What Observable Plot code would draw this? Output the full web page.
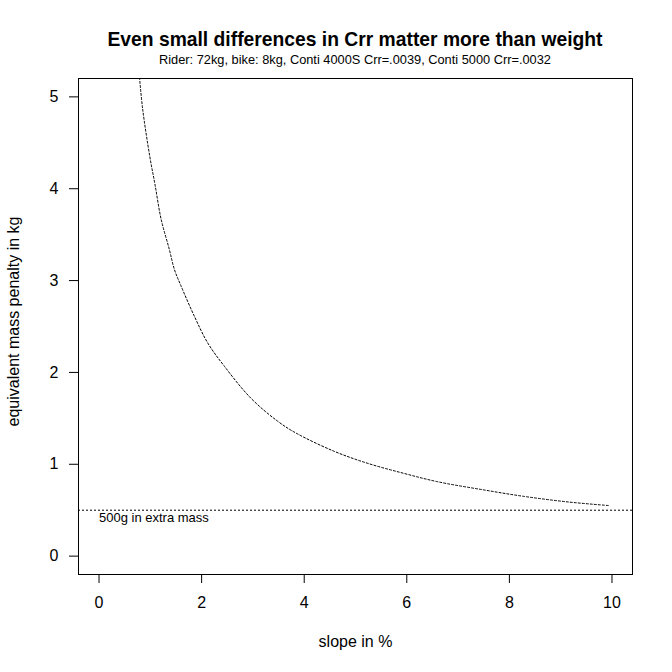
<!DOCTYPE html>
<html><head><meta charset="utf-8">
<script src="https://cdn.jsdelivr.net/npm/d3@7"></script>
<script src="https://cdn.jsdelivr.net/npm/@observablehq/plot@0.6"></script>
<style>
html,body{margin:0;padding:0;background:#fff;overflow:hidden}
#wrap{position:relative;width:672px;height:672px;font-family:"Liberation Sans",Arial,sans-serif}
#head{position:relative;height:70px}
.t{position:absolute;left:55px;width:600px;text-align:center;white-space:nowrap;line-height:1;color:#000}
#title{top:30.4px;font-size:19.3px;font-weight:bold}
#sub{top:53.5px;font-size:12.8px}
#chart svg{display:block}
</style></head><body>
<div id="wrap">
  <div id="head">
    <div class="t" id="title">Even small differences in Crr matter more than weight</div>
    <div class="t" id="sub">Rider: 72kg, bike: 8kg, Conti 4000S Crr=.0039, Conti 5000 Crr=.0032</div>
  </div>
  <div id="chart"></div>
</div>
<script>
// slope in %
const slope = [0.79, 0.85, 0.99, 1.09, 1.21, 1.37, 1.47, 1.60, 1.86, 2.12, 2.44, 2.96, 3.48, 3.84, 4.59, 5.24, 5.95, 6.60, 7.51, 8.29, 9.14, 9.95];
// equivalent mass penalty in kg
const penalty = [5.21, 4.87, 4.35, 4.05, 3.67, 3.34, 3.12, 2.94, 2.61, 2.32, 2.07, 1.72, 1.47, 1.34, 1.14, 1.01, 0.90, 0.81, 0.72, 0.65, 0.59, 0.55];
const referenceMass = [0.5];
const annotation = ["500g in extra mass"];
const xTicks = [0, 2, 4, 6, 8, 10];
const yTicks = [0, 1, 2, 3, 4, 5];
const xLabel = "slope in %";
const yLabel = "equivalent mass penalty in kg";

const rows = slope.map((s, i) => ({slope: s, penalty: penalty[i]}));
const font = "'Liberation Sans', Arial, sans-serif";

const chart = Plot.plot({
  width: 672,
  height: 602,
  marginTop: 8,
  marginBottom: 98,
  marginLeft: 78,
  marginRight: 40,
  style: {fontFamily: font, fontSize: "16px", background: "white", color: "black", overflow: "visible"},
  x: {domain: [-0.4, 10.4]},
  y: {domain: [-0.2, 5.2]},
  marks: [
    Plot.frame({stroke: "black", strokeWidth: 1}),
    Plot.axisX(xTicks, {tickSize: 9, tickPadding: 13, fontSize: 16, label: null, tickFormat: d3.format("d"), stroke: "black", fill: "black"}),
    Plot.axisY(yTicks, {tickSize: 9, tickPadding: 11, fontSize: 16, label: null, tickFormat: d3.format("d"), stroke: "black", fill: "black"}),
    Plot.ruleY(referenceMass, {stroke: "black", strokeWidth: 1, strokeDasharray: "2,2"}),
    Plot.line(rows, {x: "slope", y: "penalty", stroke: "black", strokeWidth: 1, strokeDasharray: "2,2", curve: "catmull-rom", clip: true}),
    Plot.text(annotation, {x: 0, y: referenceMass[0], text: d => d, textAnchor: "start", dy: 8, fontSize: 13, fill: "black"}),
    Plot.text([xLabel], {frameAnchor: "bottom", text: d => d, textAnchor: "middle", dy: 72, fontSize: 16, fill: "black"}),
    Plot.text([yLabel], {frameAnchor: "left", text: d => d, textAnchor: "middle", rotate: -90, dx: -65, dy: -5, fontSize: 16, fill: "black"})
  ]
});
document.getElementById("chart").appendChild(chart);
</script>
</body></html>
